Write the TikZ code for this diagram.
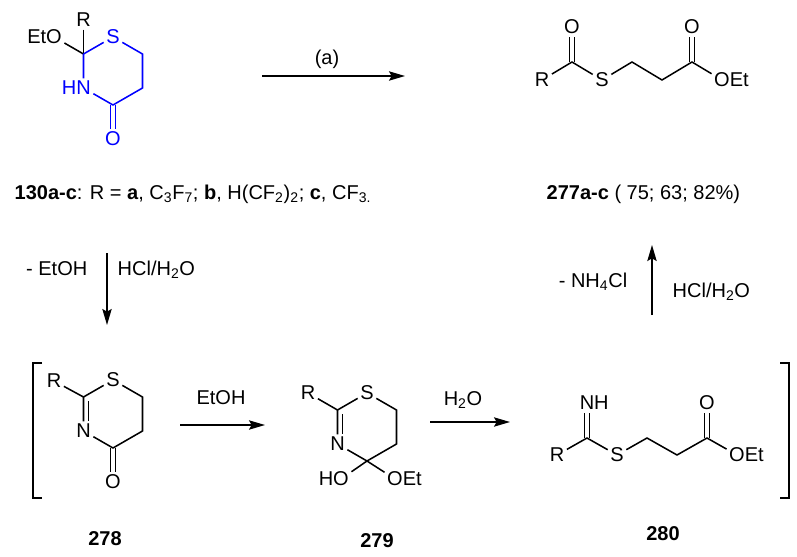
\documentclass[tikz,border=0pt]{standalone}
\usepackage{fontspec}
\setmainfont{Liberation Sans}
\usetikzlibrary{arrows.meta}

\tikzset{
	bond/.style={line width=1.15pt},
	dbond/.style={bond, double, double distance=2.4pt},
	atom/.style={inner sep=2pt, outer sep=0pt},
	side/.style={inner sep=0pt, outer sep=0pt},
	ring/.style={blue},
	react/.style={line width=1.15pt, -{Stealth[length=12pt, width=7pt, inset=2pt]}},
}

\begin{document}
\begin{tikzpicture}[x=0.75pt, y=-0.75pt, font=\fontsize{15}{18}\selectfont]

% frame %{{{1

	\useasboundingbox (0,0) rectangle (797,557);

% 130a-c %{{{1

	\coordinate (C2a) at (83.5,54);
	\coordinate (C6a) at (142.5,54);
	\coordinate (C5a) at (142.5,88);
	\coordinate (C4a) at (113,105);

	\node[atom] (Ra) at (83.5,20) {R};
	\node[atom] (Oa) at (54,37) {O};
	\node[side, anchor=base east] (Eta) at ([xshift=2pt]Oa.base west) {Et};
	\node[atom, ring] (Sa) at (113,37) {S};
	\node[atom, ring] (Na) at (83.5,88) {N};
	\node[side, ring, anchor=base east] (Ha) at ([xshift=2pt]Na.base west) {H};
	\node[atom, ring] (O2a) at (113,139) {O};

	\draw[dbond, ring] (C4a) -- (O2a);
	\draw[bond] (Ra) -- (C2a);
	\draw[bond] (Oa) -- (C2a);
	\draw[bond, ring] (C2a) -- (Sa) -- (C6a) -- (C5a) -- (C4a) -- (Na) -- (C2a);

	\node[anchor=base west] (lab130) at (10,199)
	{\textbf{130a-c}: R = \textbf{a}, C\textsubscript{3}F\textsubscript{7}; \textbf{b}, H(CF\textsubscript{2})\textsubscript{2}; \textbf{c}, CF\textsubscript{3.}};

% arrow (a) %{{{1

	\coordinate (Aa) at (262,76);
	\coordinate (Ab) at (405,76);
	\draw[react] (Aa) -- (Ab);
	\node[anchor=base] (la) at (327,64) {(a)};

% 277a-c %{{{1

	\coordinate (C1b) at (572,62);
	\coordinate (C3b) at (632,62);
	\coordinate (C4b) at (662,80);
	\coordinate (C5b) at (692,62);

	\node[atom] (Rb) at (542,80) {R};
	\node[atom] (O1b) at (572,27) {O};
	\node[atom] (Sb) at (602,80) {S};
	\node[atom] (O2b) at (692,27) {O};
	\node[atom] (O3b) at (722,80) {O};
	\node[side, anchor=base west] (Etb) at ([xshift=-2pt]O3b.base east) {Et};

	\draw[dbond] (C1b) -- (O1b);
	\draw[dbond] (C5b) -- (O2b);
	\draw[bond] (Rb) -- (C1b) -- (Sb) -- (C3b) -- (C4b) -- (C5b) -- (O3b);

	\node[anchor=base west] (lab277) at (542,199) {\textbf{277a-c} ( 75; 63; 82\%)};

% arrow down %{{{1

	\coordinate (Da) at (107,253);
	\coordinate (Db) at (107,325);
	\draw[react] (Da) -- (Db);
	\node[anchor=base east] (ld1) at (92,275) {- EtOH};
	\node[anchor=base west] (ld2) at (113,275) {HCl/H\textsubscript{2}O};

% brackets %{{{1

	\coordinate (Bl1) at (42,363);
	\coordinate (Bl2) at (33,363);
	\coordinate (Bl3) at (33,498);
	\coordinate (Bl4) at (42,498);
	\draw[bond] (Bl1) -- (Bl2) -- (Bl3) -- (Bl4);

	\coordinate (Br1) at (780,363);
	\coordinate (Br2) at (789,363);
	\coordinate (Br3) at (789,498);
	\coordinate (Br4) at (780,498);
	\draw[bond] (Br1) -- (Br2) -- (Br3) -- (Br4);

% 278 %{{{1

	\coordinate (C2c) at (83.5,397);
	\coordinate (C6c) at (142.5,397);
	\coordinate (C5c) at (142.5,431);
	\coordinate (C4c) at (113,448);

	\node[atom] (Rc) at (54,381) {R};
	\node[atom] (Sc) at (113,380) {S};
	\node[atom] (Nc) at (83.5,431) {N};
	\node[atom] (Oc) at (113,482) {O};

	\draw[dbond] (C4c) -- (Oc);
	\draw[bond] (Rc) -- (C2c);
	\draw[bond] (C2c) -- (Sc) -- (C6c) -- (C5c) -- (C4c) -- (Nc) -- (C2c);
	\draw[bond, shorten <=3pt] ([xshift=3.75pt]C2c) -- ([xshift=3.75pt]Nc.north);

	\node (n278) at (105,539) {\textbf{278}};

% arrow EtOH %{{{1

	\coordinate (Ea) at (180,425);
	\coordinate (Eb) at (265,425);
	\draw[react] (Ea) -- (Eb);
	\node[anchor=base] (le) at (221,404) {EtOH};

% 279 %{{{1

	\coordinate (C2d) at (337.5,410);
	\coordinate (C6d) at (396.5,410);
	\coordinate (C5d) at (396.5,444);
	\coordinate (C4d) at (367,461);

	\node[atom] (Rd) at (308,393) {R};
	\node[atom] (Sd) at (367,393) {S};
	\node[atom] (Nd) at (337.5,444) {N};
	\node[atom] (O1d) at (341,479) {O};
	\node[side, anchor=base east] (Hd) at ([xshift=2pt]O1d.base west) {H};
	\node[atom] (O2d) at (395,479) {O};
	\node[side, anchor=base west] (Etd) at ([xshift=-2pt]O2d.base east) {Et};

	\draw[bond] (Rd) -- (C2d);
	\draw[bond] (C2d) -- (Sd) -- (C6d) -- (C5d) -- (C4d) -- (Nd) -- (C2d);
	\draw[bond, shorten <=3pt] ([xshift=3.75pt]C2d) -- ([xshift=3.75pt]Nd.north);
	\draw[bond] (O1d) -- (C4d) -- (O2d);

	\node (n279) at (377,541) {\textbf{279}};

% arrow H2O %{{{1

	\coordinate (Wa) at (430,422);
	\coordinate (Wb) at (510,422);
	\draw[react] (Wa) -- (Wb);
	\node[anchor=base] (lw) at (463,405) {H\textsubscript{2}O};

% 280 %{{{1

	\coordinate (C1e) at (587,438);
	\coordinate (C3e) at (647,438);
	\coordinate (C4e) at (677,455);
	\coordinate (C5e) at (707,438);

	\node[atom] (Re) at (557,455) {R};
	\node[atom] (Ne) at (587,403) {N};
	\node[side, anchor=base west] (He) at ([xshift=-2pt]Ne.base east) {H};
	\node[atom] (Se) at (617,455) {S};
	\node[atom] (O1e) at (707,403) {O};
	\node[atom] (O2e) at (737,455) {O};
	\node[side, anchor=base west] (Ete) at ([xshift=-2pt]O2e.base east) {Et};

	\draw[dbond] (C1e) -- (Ne);
	\draw[dbond] (C5e) -- (O1e);
	\draw[bond] (Re) -- (C1e) -- (Se) -- (C3e) -- (C4e) -- (C5e) -- (O2e);

	\node (n280) at (663,534) {\textbf{280}};

% arrow up %{{{1

	\coordinate (Ua) at (652,315);
	\coordinate (Ub) at (652,245);
	\draw[react] (Ua) -- (Ub);
	\node[anchor=base east] (lu1) at (632,287) {- NH\textsubscript{4}Cl};
	\node[anchor=base west] (lu2) at (668,297) {HCl/H\textsubscript{2}O};

% closing %{{{1

\end{tikzpicture}
\end{document}
